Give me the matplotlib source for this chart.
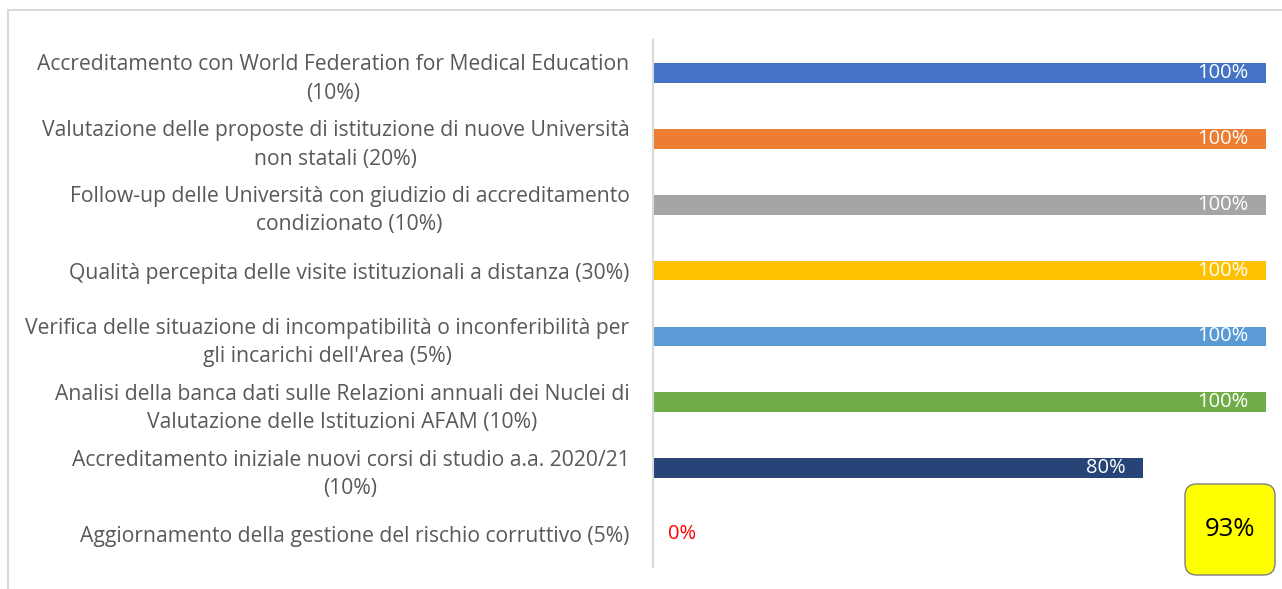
import matplotlib.pyplot as plt
from matplotlib.patches import FancyBboxPatch
from matplotlib.lines import Line2D

# dati
labels = [
    "Accreditamento con World Federation for Medical Education\n(10%)",
    "Valutazione delle proposte di istituzione di nuove Università\nnon statali (20%)",
    "Follow-up delle Università con giudizio di accreditamento\ncondizionato (10%)",
    "Qualità percepita delle visite istituzionali a distanza (30%)",
    "Verifica delle situazione di incompatibilità o inconferibilità per\ngli incarichi dell'Area (5%)",
    "Analisi della banca dati sulle Relazioni annuali dei Nuclei di\nValutazione delle Istituzioni AFAM (10%)",
    "Accreditamento iniziale nuovi corsi di studio a.a. 2020/21\n(10%)",
    "Aggiornamento della gestione del rischio corruttivo (5%)",
]
values = [1.0, 1.0, 1.0, 1.0, 1.0, 1.0, 0.8, 0.0]
colors = ["#4472C4", "#ED7D31", "#A5A5A5", "#FFC000", "#5B9BD5", "#70AD47", "#264478", "#9E480E"]
totale = "93%"

plt.rcParams['font.family'] = ['Open Sans', 'DejaVu Sans']

fig = plt.figure(figsize=(12.82, 5.89), dpi=100)
ax = fig.add_axes([653/1282, 1-567/589, (1266-653)/1282, 527/589])

y = list(range(len(labels)))
ax.barh(y, values, height=0.3, color=colors)
ax.set_ylim(len(labels)-0.5, -0.5)
ax.set_xlim(0, 1)

for i, v in enumerate(values):
    if v > 0:
        ax.annotate(f"{v:.0%}", (v, i), xytext=(-13, 0), textcoords="offset points",
                    ha="right", va="center", color="white", fontsize=14.5)
    else:
        ax.annotate("0%", (0, i), xytext=(11, 0), textcoords="offset points",
                    ha="left", va="center", color="red", fontsize=14.5)

ax.set_yticks(y)
ax.set_yticklabels(labels, fontsize=15.2, color="#595959", multialignment="center",
                   linespacing=1.45)
ax.tick_params(axis="y", length=0, pad=17)
ax.set_xticks([])
for s in ["top", "right", "bottom"]:
    ax.spines[s].set_visible(False)
ax.spines["left"].set_color("#D9D9D9")
ax.spines["left"].set_linewidth(1.5)

# riquadro del totale
box = FancyBboxPatch((1185/1282, 1-575/589), 90/1282, 91/589,
                     boxstyle="round,pad=0,rounding_size=0.009",
                     transform=fig.transFigure, facecolor="#FFFF00",
                     edgecolor="#7F7F7F", linewidth=1, mutation_aspect=1282/589)
fig.patches.append(box)
fig.text(1230/1282, 1-530/589, totale, ha="center", va="center", fontsize=18.5, color="black")

# bordo del grafico
fig.add_artist(Line2D([8/1282, 8/1282], [0, 1-10/589], color="#D9D9D9", lw=1.5))
fig.add_artist(Line2D([8/1282, 1], [1-10/589, 1-10/589], color="#D9D9D9", lw=1.5))

fig.savefig("out.png", dpi=100)
